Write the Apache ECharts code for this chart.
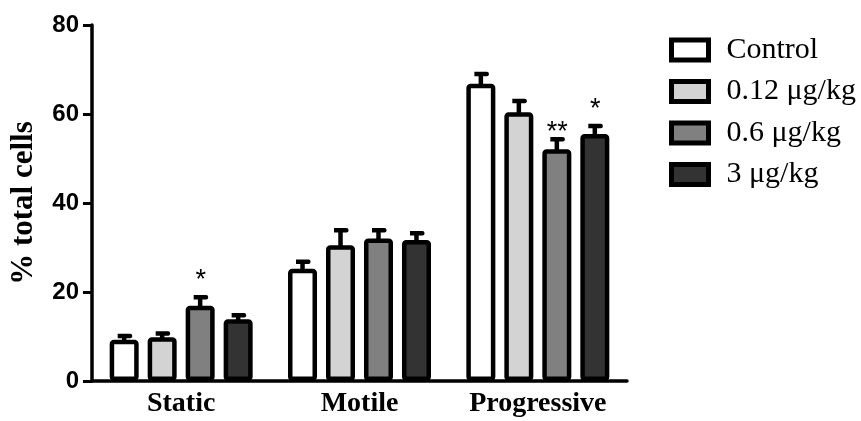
<!DOCTYPE html>
<html>
<head>
<meta charset="utf-8">
<script src="https://cdn.jsdelivr.net/npm/echarts@6/dist/echarts.min.js"></script>
<style>
html,body{margin:0;padding:0;background:#fff;}
#chart{width:861px;height:421px;}
</style>
</head>
<body>
<div id="chart"></div>
<script>
// ---- data ----
var categories = ['Static', 'Motile', 'Progressive'];
var seriesNames = ['Control', '0.12 μg/kg', '0.6 μg/kg', '3 μg/kg'];
var control = [9.25, 25.2, 66.8];
var dose012 = [9.85, 30.5, 60.4];
var dose06 = [16.9, 32.0, 52.1];
var dose3 = [13.9, 31.7, 55.5];
var controlErr = [0.85, 1.6, 2.2];
var dose012Err = [0.85, 3.4, 2.5];
var dose06Err = [1.9, 1.9, 2.2];
var dose3Err = [0.9, 1.5, 1.8];
var controlSig = ['', '', ''];
var dose012Sig = ['', '', ''];
var dose06Sig = ['*', '', '**'];
var dose3Sig = ['', '', '*'];
var yTicks = [0, 20, 40, 60, 80];

// ---- styles ----
var colors = ['#ffffff', '#d3d3d3', '#808080', '#333333'];
var BAR_W = 29, BAR_GAP = 0.31, BORDER = 4.5;
var values = [control, dose012, dose06, dose3];
var errs = [controlErr, dose012Err, dose06Err, dose3Err];
var sigs = [controlSig, dose012Sig, dose06Sig, dose3Sig];

var chart = echarts.init(document.getElementById('chart'), null, {renderer: 'canvas'});

var series = [];
values.forEach(function (vals, i) {
  series.push({
    name: seriesNames[i],
    type: 'bar',
    data: vals,
    barWidth: BAR_W,
    barGap: (BAR_GAP * 100) + '%',
    z: 3,
    itemStyle: {color: colors[i], borderColor: '#000', borderWidth: BORDER, borderRadius: 2},
    emphasis: {disabled: true}
  });
});
values.forEach(function (vals, i) {
  var step = BAR_W * (1 + BAR_GAP);
  var off = (i - 1.5) * step;
  series.push({
    type: 'custom',
    name: seriesNames[i] + ' err',
    z: 2,
    silent: true,
    data: vals.map(function (v, k) { return [k, v, errs[i][k]]; }),
    renderItem: function (params, api) {
      var k = api.value(0), v = api.value(1), e = api.value(2);
      var sig = sigs[i][params.dataIndex];
      var base = api.coord([k, v]);
      var topP = api.coord([k, v + e]);
      var cx = base[0] + off;
      var children = [
        {type: 'rect', shape: {x: cx - 2.25, y: topP[1], width: 4.5, height: base[1] - topP[1] + 3}, style: {fill: '#000'}},
        {type: 'rect', shape: {x: cx - 6.5, y: topP[1] - 2.25, width: 14.5, height: 4.5, r: [0, 2, 2, 0]}, style: {fill: '#000'}}
      ];
      if (sig) {
        children.push({type: 'text', style: {text: sig, x: cx + 0.5, y: topP[1] - 3 + (sig.length > 1 ? 10 : 0), align: 'center', verticalAlign: 'bottom', font: '27px "Liberation Sans"', fill: '#000'}});
      }
      return {type: 'group', children: children};
    }
  });
});

chart.setOption({
  animation: false,
  backgroundColor: '#fff',
  grid: {left: 92, right: 234, top: 25, bottom: 40, containLabel: false},
  legend: {
    data: seriesNames,
    orient: 'vertical',
    left: 669,
    top: 35,
    padding: 0,
    icon: 'rect',
    itemWidth: 37,
    itemHeight: 20,
    itemGap: 11.5,
    itemStyle: {borderColor: '#000', borderWidth: 5},
    textStyle: {fontFamily: 'Liberation Serif', fontSize: 30, color: '#000', padding: [0, 0, 0, 13]},
    selectedMode: false
  },
  xAxis: {
    type: 'category',
    data: categories,
    axisLine: {lineStyle: {color: '#000', width: 3.5}},
    axisTick: {alignWithLabel: true, length: 8, lineStyle: {color: '#000', width: 3}},
    axisLabel: {interval: 0, color: '#000', fontFamily: 'Liberation Serif', fontWeight: 'bold', fontSize: 28, margin: 9}
  },
  yAxis: {
    type: 'value',
    min: yTicks[0],
    max: yTicks[yTicks.length - 1],
    interval: yTicks[1] - yTicks[0],
    axisLine: {show: true, lineStyle: {color: '#000', width: 3.5}},
    axisTick: {show: true, length: 9, lineStyle: {color: '#000', width: 3}},
    splitLine: {show: false},
    axisLabel: {color: '#000', fontFamily: 'Liberation Sans', fontWeight: 'bold', fontSize: 24, margin: 13}
  },
  graphic: [{
    type: 'text',
    rotation: Math.PI / 2,
    x: 24, y: 203,
    style: {text: '% total cells', font: 'bold 31px "Liberation Serif"', fill: '#000', align: 'center', verticalAlign: 'middle'}
  }],
  series: series
});
</script>
</body>
</html>
